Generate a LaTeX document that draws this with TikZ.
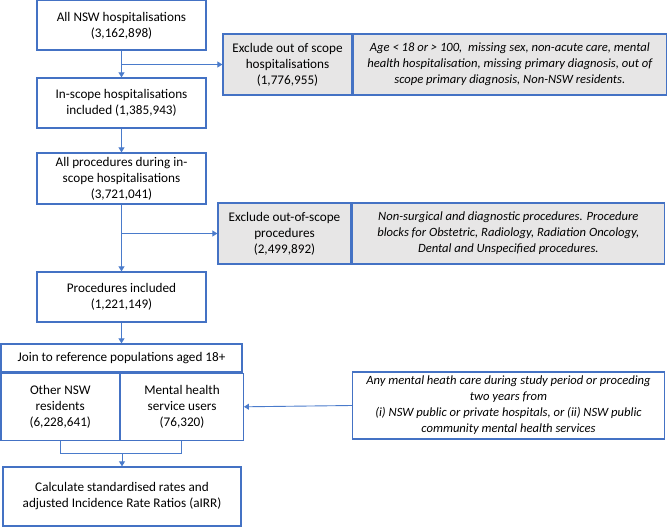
\documentclass[tikz,border=0pt]{standalone}
\usepackage{fontspec}
\setmainfont{Carlito}
\usetikzlibrary{arrows.meta}
\definecolor{boxblue}{HTML}{4472C4}
\definecolor{linkblue}{HTML}{4A7BCB}
\definecolor{greyfill}{HTML}{E7E6E6}
\tikzset{
  flowbox/.style={draw=boxblue, line width=1.3pt, fill=white, inner sep=0pt, align=center,
    font=\fontsize{13.2}{16}\selectfont},
  greybox/.style={flowbox, fill=greyfill},
  itbox/.style={font=\fontsize{12.6}{16}\selectfont\itshape},
  link/.style={draw=linkblue, line width=0.9pt},
  linkarrow/.style={link, -{Triangle[width=6pt,length=5pt]}},
}
\begin{document}
\begin{tikzpicture}[x=1pt,y=-1pt]
\useasboundingbox (0,0) rectangle (667,527);
% main column
\node[flowbox, minimum width=169pt, minimum height=49.5pt] (b1) at (121.5,25.4) {All NSW hospitalisations\\(3,162,898)};
\node[flowbox, minimum width=169pt, minimum height=50pt] (b2) at (121.5,103) {In-scope hospitalisations\\included (1,385,943)};
\node[flowbox, minimum width=169pt, minimum height=51pt] (b3) at (121.5,178.5) {All procedures during in-\\scope hospitalisations\\(3,721,041)};
\node[flowbox, minimum width=169pt, minimum height=50pt] (b4) at (121.5,297) {Procedures included\\(1,221,149)};
% exclusion box 1
\node[greybox, minimum width=129pt, minimum height=61pt] (e1a) at (287.5,64.5) {Exclude out of scope\\hospitalisations\\(1,776,955)};
\node[greybox, itbox, minimum width=313pt, minimum height=61pt, anchor=west] (e1b) at (e1a.east) {Age < 18 or > 100,~ missing sex, non-acute care, mental\\health hospitalisation, missing primary diagnosis, out of\\scope primary diagnosis, Non-NSW residents.};
% exclusion box 2
\node[greybox, minimum width=133pt, minimum height=61pt] (e2a) at (284.5,233.5) {Exclude out-of-scope\\procedures\\(2,499,892)};
\node[greybox, itbox, minimum width=312pt, minimum height=61pt, anchor=west] (e2b) at (e2a.east) {Non-surgical and diagnostic procedures. Procedure\\blocks for Obstetric, Radiology, Radiation Oncology,\\Dental and Unspecified procedures.};
% join box
\node[flowbox, minimum width=241pt, minimum height=28pt] (jh) at (121.5,358) {Join to reference populations aged 18+};
\node[flowbox, minimum width=118.5pt, minimum height=67pt, anchor=north west] (jl) at (jh.south west) {Other NSW\\residents\\(6,228,641)};
\node[flowbox, minimum width=122.5pt, minimum height=67pt, anchor=north west] (jr) at (jl.north east) {Mental health\\service users\\(76,320)};
% calc box
\node[flowbox, minimum width=238pt, minimum height=59pt] (calc) at (122,496.5) {Calculate standardised rates and\\adjusted Incidence Rate Ratios (aIRR)};
% mental health definition box
\node[flowbox, itbox, minimum width=312pt, minimum height=67pt] (mh) at (508.5,405.5) {Any mental heath care during study period or proceding\\two years from\\(i) NSW public or private hospitals, or (ii) NSW public\\community mental health services};
% connectors
\draw[linkarrow] (b1) -- (b2);
\coordinate (c1) at (122,64.5);
\draw[linkarrow] (c1) -- (e1a.west);
\draw[linkarrow] (b2) -- (b3);
\draw[linkarrow] (b3) -- (b4);
\coordinate (c2) at (122,233.5);
\draw[linkarrow] (c2) -- (e2a.west);
\draw[linkarrow] (b4) -- (jh);
\draw[linkarrow] (mh.west) -- (jr.east);
\coordinate (kl) at (60,453);
\coordinate (kr) at (181,453);
\coordinate (km) at (122,453);
\draw[link] (jl.south -| kl) -- (kl) -- (kr) -- (jr.south -| kr);
\draw[linkarrow] (km) -- (calc.north);
\end{tikzpicture}
\end{document}
